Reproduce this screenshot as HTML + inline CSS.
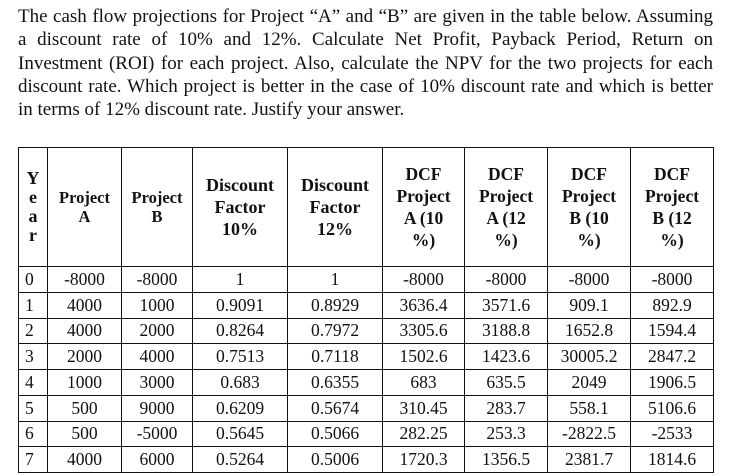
<!DOCTYPE html>
<html><head><meta charset="utf-8"><style>
body{margin:0;width:730px;height:476px;background:#fff;overflow:hidden;position:relative;font-family:"Liberation Serif",serif;color:#111}
.p{position:absolute;left:18px;width:695px;font-size:19px;line-height:23.3px;top:5px}
.p span{display:block;text-align:justify;text-align-last:justify;white-space:nowrap}
.p span.last{text-align-last:left}
table{position:absolute;left:18px;top:147px;border-collapse:collapse;table-layout:fixed}
td{border:1.3px solid #111;text-align:center;padding:0;font-size:17.5px}
th{border:1.3px solid #111;font-weight:bold;padding:0;vertical-align:middle}
tr.h{height:119px}
tr.r{height:25.75px}
td.y{text-align:left;padding-left:6px}
</style></head><body>
<div class="p">
<span>The cash flow projections for Project “A” and “B” are given in the table below. Assuming</span>
<span>a discount rate of 10% and 12%. Calculate Net Profit, Payback Period, Return on</span>
<span>Investment (ROI) for each project. Also, calculate the NPV for the two projects for each</span>
<span>discount rate. Which project is better in the case of 10% discount rate and which is better</span>
<span class="last">in terms of 12% discount rate. Justify your answer.</span>
</div>
<table>
<colgroup><col style="width:29px"><col style="width:74px"><col style="width:71px"><col style="width:95px"><col style="width:95px"><col style="width:82px"><col style="width:83px"><col style="width:83px"><col style="width:83px"></colgroup>
<tr class="h">
<th style="font-size:18px;line-height:19px">Y<br>e<br>a<br>r</th>
<th style="font-size:16.5px;line-height:19px">Project<br>A</th>
<th style="font-size:16.5px;line-height:19px">Project<br>B</th>
<th style="font-size:18px;line-height:22px">Discount<br>Factor<br>10%</th>
<th style="font-size:18px;line-height:22px">Discount<br>Factor<br>12%</th>
<th style="font-size:17.5px;line-height:22px">DCF<br>Project<br>A (10<br>%)</th>
<th style="font-size:17.5px;line-height:22px">DCF<br>Project<br>A (12<br>%)</th>
<th style="font-size:17.5px;line-height:22px">DCF<br>Project<br>B (10<br>%)</th>
<th style="font-size:17.5px;line-height:22px">DCF<br>Project<br>B (12<br>%)</th>
</tr>
<tbody id="tb"></tbody>
</table>
<script>
const years=["0","1","2","3","4","5","6","7"];
const projA=["-8000","4000","4000","2000","1000","500","500","4000"];
const projB=["-8000","1000","2000","4000","3000","9000","-5000","6000"];
const df10=["1","0.9091","0.8264","0.7513","0.683","0.6209","0.5645","0.5264"];
const df12=["1","0.8929","0.7972","0.7118","0.6355","0.5674","0.5066","0.5006"];
const dcfA10=["-8000","3636.4","3305.6","1502.6","683","310.45","282.25","1720.3"];
const dcfA12=["-8000","3571.6","3188.8","1423.6","635.5","283.7","253.3","1356.5"];
const dcfB10=["-8000","909.1","1652.8","30005.2","2049","558.1","-2822.5","2381.7"];
const dcfB12=["-8000","892.9","1594.4","2847.2","1906.5","5106.6","-2533","1814.6"];
const tb=document.getElementById('tb');
years.forEach((y,i)=>{
 const tr=document.createElement('tr');tr.className='r';
 
 
 [y,projA[i],projB[i],df10[i],df12[i],dcfA10[i],dcfA12[i],dcfB10[i],dcfB12[i]].forEach((v,j)=>{
  const td=document.createElement('td');td.textContent=v;
  if(j===0)td.className='y';
  
  
  tr.appendChild(td);
 });
 tb.appendChild(tr);
});
</script>
</body></html>
